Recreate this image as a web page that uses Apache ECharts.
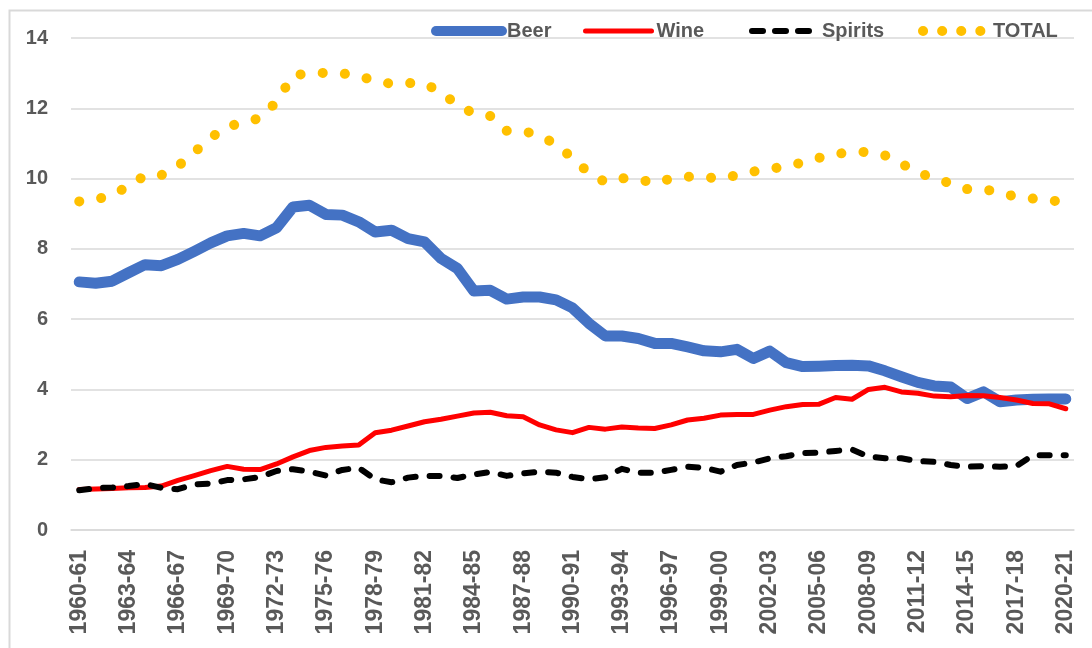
<!DOCTYPE html>
<html>
<head>
<meta charset="utf-8">
<script src="https://cdn.jsdelivr.net/npm/echarts@6/dist/echarts.min.js"></script>
<style>
html,body{margin:0;padding:0;background:#fff;}
#chart{width:1092px;height:648px;}
</style>
</head>
<body>
<div id="chart"></div>
<script>
const categories = [
"1960-61","1961-62","1962-63","1963-64","1964-65","1965-66","1966-67","1967-68","1968-69","1969-70",
"1970-71","1971-72","1972-73","1973-74","1974-75","1975-76","1976-77","1977-78","1978-79","1979-80",
"1980-81","1981-82","1982-83","1983-84","1984-85","1985-86","1986-87","1987-88","1988-89","1989-90",
"1990-91","1991-92","1992-93","1993-94","1994-95","1995-96","1996-97","1997-98","1998-99","1999-00",
"2000-01","2001-02","2002-03","2003-04","2004-05","2005-06","2006-07","2007-08","2008-09","2009-10",
"2010-11","2011-12","2012-13","2013-14","2014-15","2015-16","2016-17","2017-18","2018-19","2019-20",
"2020-21"];

const beer = [
7.06,7.02,7.08,7.32,7.55,7.52,7.70,7.93,8.17,8.37,
8.44,8.37,8.60,9.19,9.24,8.98,8.96,8.77,8.48,8.53,
8.29,8.20,7.73,7.44,6.80,6.82,6.57,6.63,6.63,6.55,
6.32,5.88,5.52,5.52,5.45,5.31,5.31,5.21,5.10,5.07,
5.14,4.88,5.09,4.76,4.65,4.66,4.68,4.69,4.67,4.53,
4.36,4.20,4.10,4.07,3.74,3.93,3.65,3.70,3.72,3.73,
3.73];

const wine = [
1.15,1.17,1.18,1.20,1.21,1.25,1.41,1.55,1.69,1.81,
1.73,1.72,1.88,2.08,2.26,2.35,2.39,2.42,2.77,2.84,
2.96,3.08,3.15,3.24,3.33,3.35,3.25,3.22,2.99,2.85,
2.77,2.92,2.87,2.93,2.90,2.89,2.99,3.13,3.18,3.27,
3.29,3.29,3.41,3.51,3.57,3.58,3.77,3.72,4.00,4.06,
3.93,3.89,3.81,3.79,3.83,3.82,3.77,3.70,3.60,3.59,
3.45];

const spirits = [
1.13,1.19,1.21,1.25,1.31,1.20,1.16,1.30,1.32,1.42,
1.44,1.51,1.68,1.73,1.66,1.55,1.71,1.77,1.44,1.36,
1.49,1.54,1.54,1.48,1.58,1.65,1.54,1.61,1.66,1.63,
1.51,1.44,1.50,1.74,1.63,1.63,1.71,1.80,1.77,1.66,
1.85,1.92,2.04,2.10,2.19,2.20,2.25,2.29,2.09,2.04,
2.04,1.96,1.94,1.85,1.80,1.82,1.80,1.82,2.13,2.13,
2.13];

const total = [
9.35,9.40,9.54,9.78,10.09,10.10,10.35,10.75,11.16,11.49,
11.58,11.73,12.18,12.94,12.99,13.01,12.99,12.93,12.77,12.70,
12.72,12.71,12.45,12.10,11.85,11.78,11.36,11.36,11.22,10.98,
10.58,10.16,9.90,10.01,9.98,9.87,10.00,10.05,10.05,9.99,
10.10,10.20,10.28,10.34,10.46,10.59,10.70,10.75,10.76,10.66,
10.43,10.17,10.01,9.86,9.70,9.70,9.60,9.48,9.43,9.38,
9.33];

const yTicks = {min: 0, max: 14, interval: 2};

const FONT = "'Liberation Sans', Arial, sans-serif";
const GREY = '#595959';
const GRID = '#D9D9D9';

const legendText = {fontFamily: FONT, fontWeight: 'bold', fontSize: 20, color: GREY, lineHeight: 20};
const hiddenSymbol = {color: 'rgba(0,0,0,0)', borderWidth: 0, borderColor: 'rgba(0,0,0,0)', opacity: 0};

function mkLegend(name, left, width, lineStyle) {
  return {
    data: [{name: name, lineStyle: lineStyle, itemStyle: hiddenSymbol}],
    left: left, top: 21, padding: 0,
    itemWidth: width, itemHeight: 20, itemGap: 0,
    selectedMode: false,
    itemStyle: hiddenSymbol,
    textStyle: legendText
  };
}

const chart = echarts.init(document.getElementById('chart'), null, {renderer: 'canvas'});
chart.setOption({
  animation: false,
  backgroundColor: '#fff',
  graphic: [{
    type: 'rect', left: 7, top: 8, silent: true, z: -10,
    shape: {width: 1200, height: 800},
    style: {fill: 'none', stroke: GRID, lineWidth: 2}
  }],
  legend: [
    mkLegend('Beer', 431, 66, {width: 10, cap: 'round', type: 'solid', color: '#4472C4'}),
    mkLegend('Wine', 583, 66, {width: 5, cap: 'round', type: 'solid', color: '#FF0000'}),
    mkLegend('Spirits', 749, 65, {width: 6, cap: 'round', type: [11, 12, 11, 12, 11, 40], color: '#000000'}),
    mkLegend('TOTAL', 918, 65, {width: 10, cap: 'round', type: [0.1, 19, 0.1, 19, 0.1, 19, 0.1, 60], color: '#FFC000'})
  ],
  grid: {left: 71, right: 18, top: 38, bottom: 118, containLabel: false},
  xAxis: {
    type: 'category',
    data: categories,
    boundaryGap: true,
    axisLine: {show: true, lineStyle: {color: GRID, width: 1.5}},
    axisTick: {show: false},
    splitLine: {show: false},
    axisLabel: {
      interval: 2, rotate: 90, margin: 20,
      fontFamily: FONT, fontWeight: 'bold', fontSize: 23, color: GREY
    }
  },
  yAxis: {
    type: 'value',
    min: yTicks.min, max: yTicks.max, interval: yTicks.interval,
    axisLine: {show: false},
    axisTick: {show: false},
    splitLine: {show: true, lineStyle: {color: GRID, width: 1.5}},
    axisLabel: {margin: 23, fontFamily: FONT, fontWeight: 'bold', fontSize: 20, color: GREY}
  },
  series: [
    {name: 'Beer', type: 'line', data: beer, symbol: 'none', smooth: false,
     lineStyle: {color: '#4472C4', width: 11, cap: 'round', join: 'round'},
     itemStyle: {color: '#4472C4'}},
    {name: 'Wine', type: 'line', data: wine, symbol: 'none',
     lineStyle: {color: '#FF0000', width: 5, cap: 'round', join: 'round'},
     itemStyle: {color: '#FF0000'}},
    {name: 'Spirits', type: 'line', data: spirits, symbol: 'none',
     lineStyle: {color: '#000000', width: 6, cap: 'round', join: 'round', type: [10, 14]},
     itemStyle: {color: '#000000'}},
    {name: 'TOTAL', type: 'line', data: total, symbol: 'none',
     lineStyle: {color: '#FFC000', width: 10, cap: 'round', join: 'round', type: [0.1, 22.1]},
     itemStyle: {color: '#FFC000'}}
  ]
});
</script>
</body>
</html>
